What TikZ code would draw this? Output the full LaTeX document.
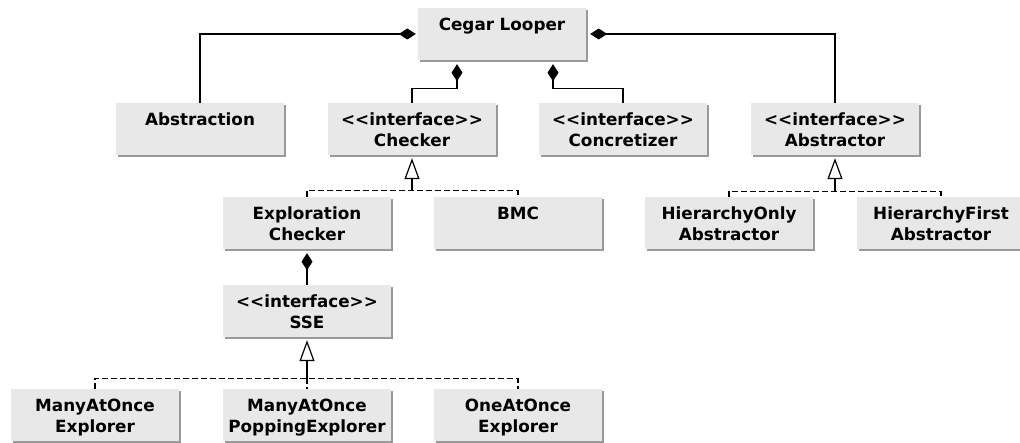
\documentclass[tikz,border=0pt]{standalone}
\usepackage{fontspec}
\setmainfont{DejaVu Sans}
\usetikzlibrary{arrows.meta,shadows,calc}
\definecolor{boxfill}{HTML}{E8E8E8}
\definecolor{shadowc}{HTML}{999999}
\newcommand\stereo{\mbox{<}\mbox{<}interface\mbox{>}\mbox{>}}
\begin{document}
\begin{tikzpicture}[x=1pt,y=-1pt,
  cls/.style={fill=boxfill, minimum width=168pt, minimum height=52pt, inner sep=0pt,
    drop shadow={shadow xshift=2pt,shadow yshift=-2pt,fill=shadowc,opacity=1}},
  txt/.style={anchor=base, text width=168pt, align=center, inner sep=0pt,
    font=\bfseries\fontsize{16.8}{21}\selectfont},
  comp/.style={{Diamond[length=17pt,width=11pt]}-, line width=1.2pt, shorten <=2pt},
  gen/.style={-{Triangle[open,length=21pt,width=15pt]}, line width=1.2pt, shorten >=3pt},
  real/.style={line width=1.2pt, dash pattern=on 6pt off 3pt}]
\useasboundingbox (0,0) rectangle (1020,443);

% boxes
\node[cls] (cegar) at (502,34) {};
\node[cls] (abstraction) at (200,129) {};
\node[cls] (checker) at (412,129) {};
\node[cls] (concretizer) at (623,129) {};
\node[cls] (abstractor) at (835,129) {};
\node[cls] (exploration) at (307,223) {};
\node[cls] (bmc) at (518,223) {};
\node[cls] (honly) at (729,223) {};
\node[cls] (hfirst) at (941,223) {};
\node[cls] (sse) at (307,311) {};
\node[cls] (many) at (95,415) {};
\node[cls] (popping) at (307,415) {};
\node[cls] (oneat) at (518,415) {};

% texts
\node[txt] (tcegar) at ($(cegar.north)+(0,23)$) {Cegar Looper};
\node[txt] (tabstraction) at ($(abstraction.north)+(0,23)$) {Abstraction};
\node[txt] (tchecker) at ($(checker.north)+(0,23)$) {\stereo\\Checker};
\node[txt] (tconcretizer) at ($(concretizer.north)+(0,23)$) {\stereo\\Concretizer};
\node[txt] (tabstractor) at ($(abstractor.north)+(0,23)$) {\stereo\\Abstractor};
\node[txt] (texploration) at ($(exploration.north)+(0,23)$) {Exploration\\Checker};
\node[txt] (tbmc) at ($(bmc.north)+(0,23)$) {BMC};
\node[txt] (thonly) at ($(honly.north)+(0,23)$) {HierarchyOnly\\Abstractor};
\node[txt] (thfirst) at ($(hfirst.north)+(0,23)$) {HierarchyFirst\\Abstractor};
\node[txt] (tsse) at ($(sse.north)+(0,23)$) {\stereo\\SSE};
\node[txt] (tmany) at ($(many.north)+(0,23)$) {ManyAtOnce\\Explorer};
\node[txt] (tpopping) at ($(popping.north)+(0,23)$) {ManyAtOnce\\PoppingExplorer};
\node[txt] (toneat) at ($(oneat.north)+(0,23)$) {OneAtOnce\\Explorer};

% compositions
\draw[comp] (cegar.west) -| (abstraction.north);
\draw[comp, shorten <=4pt] (cegar.east) -| (abstractor.north);
\draw[comp, shorten <=4pt] ([xshift=-45pt]cegar.south) -- ([xshift=-45pt,yshift=-28pt]cegar.south) -| (checker.north);
\draw[comp, shorten <=4pt] ([xshift=51pt]cegar.south) -- ([xshift=51pt,yshift=-28pt]cegar.south) -| (concretizer.north);
\draw[comp, shorten <=4pt] (exploration.south) -- (sse.north);

% realizations
\coordinate (jchk) at ($(checker.south)+(0,35)$);
\draw[gen] (jchk) -- (checker.south);
\draw[real] (exploration.north) |- (jchk) -| (bmc.north);

\coordinate (jabs) at ($(abstractor.south)+(0,36)$);
\draw[gen] (jabs) -- (abstractor.south);
\draw[real] (honly.north) |- (jabs) -| (hfirst.north);

\coordinate (jsse) at ($(sse.south)+(0,41)$);
\draw[gen] (jsse) -- (sse.south);
\draw[real] (many.north) |- (jsse) -| (oneat.north);
\draw[real] (jsse) -- (popping.north);
\end{tikzpicture}
\end{document}
